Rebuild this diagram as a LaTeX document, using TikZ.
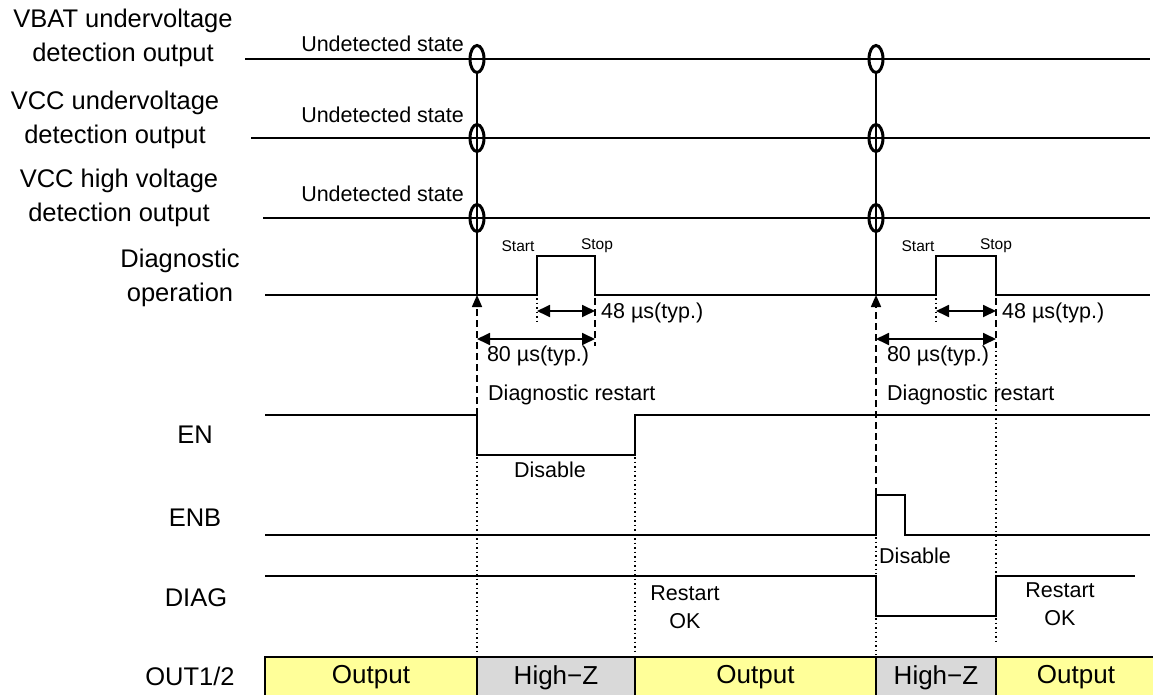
\documentclass[tikz,border=0pt]{standalone}
\usepackage{fontspec}
\setmainfont{Liberation Sans}
\usepackage{tikz}
\usetikzlibrary{arrows.meta,positioning,calc,shapes.geometric}
\definecolor{tdLine}{HTML}{000000}
\definecolor{tdOut}{HTML}{FFFF99}
\definecolor{tdHiZ}{HTML}{D9D9D9}

\begin{document}
\begin{tikzpicture}[
    x=1pt, y=-1pt, line join=miter,
    sig/.style={draw=tdLine, line width=1.8pt},
    mark0/.style={draw=tdLine, line width=3pt, ellipse, minimum width=14pt, minimum height=27pt, inner sep=0pt},
    guide/.style={draw=tdLine, line width=1.4pt, dash pattern=on 1.5pt off 3pt},
    dashguide/.style={draw=tdLine, line width=1.6pt, dash pattern=on 7pt off 4pt},
    dim/.style={{Triangle[length=13pt,width=12pt]}-{Triangle[length=13pt,width=12pt]}, draw=tdLine, line width=1.8pt},
    trig/.style={-{Triangle[length=12pt,width=10pt]}},
    lbl/.style={font=\fontsize{25.5}{34}\selectfont, align=center, inner sep=0pt},
    txt/.style={font=\fontsize{21.5}{27.5}\selectfont, align=center, inner sep=0pt},
    tiny/.style={font=\fontsize{15.5}{18}\selectfont, inner sep=0pt},
    boxlbl/.style={font=\fontsize{26}{30}\selectfont, inner sep=0pt},
    outbox/.style={draw=tdLine, line width=1.6pt, fill=tdOut},
    hizbox/.style={draw=tdLine, line width=1.6pt, fill=tdHiZ},
  ]
  \useasboundingbox (0,0) rectangle (1153,695);
  % signal names
  \node[lbl] (nVbat) at (123,38) {VBAT undervoltage\\detection output};
  \node[lbl] (nVccUv) at (115,120) {VCC undervoltage\\detection output};
  \node[lbl] (nVccHv) at (119,198) {VCC high voltage\\detection output};
  \node[lbl] (nDiagOp) at (180,278) {Diagnostic\\operation};
  \node[lbl] (nEn) at (195,435) {EN};
  \node[lbl] (nEnb) at (195,518) {ENB};
  \node[lbl] (nDiag) at (196,598) {DIAG};
  \node[lbl] (nOut) at (190,676) {OUT1/2};
  % detection outputs
  \draw[sig] (245,59) -- (1150,59);
  \draw[sig] (251,138) -- (1150,138);
  \draw[sig] (263,218) -- (1150,218);
  \foreach \t in {477,876} {
    \node[mark0] (m1\t) at (\t,59) {};
    \node[mark0] (m2\t) at (\t,138) {};
    \node[mark0] (m3\t) at (\t,218) {};
    \coordinate (trig\t) at (\t,295);
    \draw[sig] (m1\t.south) -- (trig\t);
  }
  \node[txt, anchor=south east] (u1) at (464,52) {Undetected state};
  \node[txt, anchor=south east] (u2) at (464,123) {Undetected state};
  \node[txt, anchor=south east] (u3) at (464,202) {Undetected state};
  % diagnostic operation
  \draw[sig] (265,295) -- (537,295) -- (537,256) -- (595,256) -- (595,295) -- (936,295)
    -- (936,256) -- (996,256) -- (996,295) -- (1150,295);
  \node[tiny] (st1) at (518,246) {Start};
  \node[tiny] (sp1) at (597,246) {Stop};
  \node[tiny] (st2) at (918,246) {Start};
  \node[tiny] (sp2) at (996,246) {Stop};
  % timing
  \foreach \a/\b/\c in {477/537/595,876/936/996} {
    \draw[guide] (\b,298) -- (\b,322);
    \draw[dashguide] (\c,298) -- (\c,346);
    \draw[dim] (\b,311) -- (\c,311);
    \draw[dim] (\a,339) -- (\c,339);
    \node[txt, anchor=west] (d48\a) at (\c+6,313) {48 µs(typ.)};
    \node[txt] (d80\a) at ({(\a+\c)/2+2},356) {80 µs(typ.)};
    \node[txt, anchor=west] (rs\a) at (\a+11,395) {Diagnostic restart};
  }
  \draw[dashguide, trig] (477,415) -- (trig477);
  \draw[dashguide, trig] (876,495) -- (trig876);
  \draw[guide] (996,346) -- (996,576);
  % EN
  \draw[sig] (265,415) -- (477,415) -- (477,455) -- (635,455) -- (635,415) -- (1150,415);
  \node[txt] (dis1) at (550,470) {Disable};
  % ENB
  \draw[sig] (265,535) -- (876,535) -- (876,495) -- (905,495) -- (905,535) -- (1150,535);
  \node[txt, anchor=west] (dis2) at (879,556) {Disable};
  % DIAG
  \draw[sig] (265,576) -- (876,576) -- (876,616) -- (996,616) -- (996,576) -- (1135,576);
  \node[txt] (ok1) at (685,607) {Restart\\OK};
  \node[txt] (ok2) at (1060,604) {Restart\\OK};
  % dotted guides
  \draw[guide] (477,457) -- (477,655);
  \draw[guide] (635,457) -- (635,655);
  \draw[guide] (876,537) -- (876,574);
  \draw[guide] (876,618) -- (876,655);
  \draw[guide] (996,618) -- (996,642);
  % OUT1/2
  \draw[outbox] (265,657) rectangle node[boxlbl] (o1) {Output} (477,698);
  \draw[hizbox] (477,657) rectangle node[boxlbl] (h1) {High−Z} (635,698);
  \draw[outbox] (635,657) rectangle node[boxlbl] (o2) {Output} (876,698);
  \draw[hizbox] (876,657) rectangle node[boxlbl] (h2) {High−Z} (996,698);
  \draw[outbox] (996,657) rectangle node[boxlbl] (o3) {Output} (1156,698);
\end{tikzpicture}
\end{document}
